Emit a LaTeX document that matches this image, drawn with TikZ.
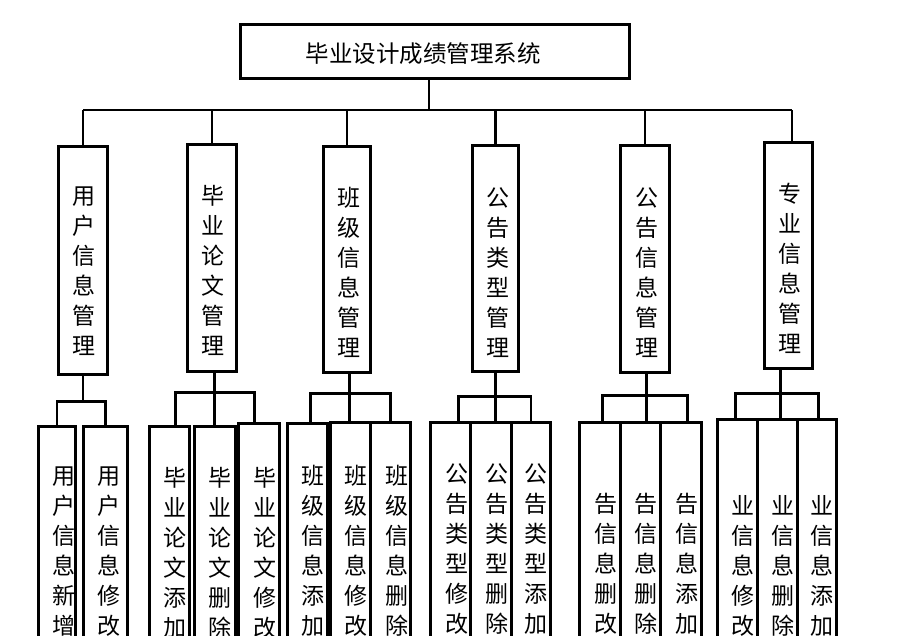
\documentclass[tikz,border=0pt]{standalone}
\usepackage{fontspec}
\setmainfont{Noto Sans CJK SC}
\usetikzlibrary{positioning}
\tikzset{
x=1pt, y=-1pt, % one unit is one pixel, y grows downwards
wire/.style={line width=2.7pt}, % the connecting lines
box/.style={draw, line width=2.7pt, anchor=north west, inner sep=0pt}, % every frame
vtext/.style={anchor=north, align=center, inner sep=0pt, font=\fontsize{23}{30}\selectfont}, % text written top to bottom
}

\begin{document}
\begin{tikzpicture}
    \useasboundingbox (0,0) rectangle (902,635);
    \clip (0,0) rectangle (902,635);
    % top
    \node[box, minimum width=389, minimum height=54] (sys) at (239,23) {};
    \node[anchor=center, inner sep=0pt, font=\fontsize{23.5}{28}\selectfont] (syst) at (423,54) {毕业设计成绩管理系统};
    % second level
    \node[box, minimum width=49, minimum height=228] (m1) at (57,145) {};
    \node[box, minimum width=49, minimum height=227] (m2) at (186,143) {};
    \node[box, minimum width=47, minimum height=226] (m3) at (322,145) {};
    \node[box, minimum width=46, minimum height=226] (m4) at (471,144) {};
    \node[box, minimum width=49, minimum height=227] (m5) at (619,144) {};
    \node[box, minimum width=48, minimum height=226] (m6) at (763,141) {};
    \node[vtext] (m1t) at (83.5,187) {用\\户\\信\\息\\管\\理};
    \node[vtext] (m2t) at (212.5,185) {毕\\业\\论\\文\\管\\理};
    \node[vtext] (m3t) at (348.5,187) {班\\级\\信\\息\\管\\理};
    \node[vtext] (m4t) at (498,187) {公\\告\\类\\型\\管\\理};
    \node[vtext] (m5t) at (646.5,187) {公\\告\\信\\息\\管\\理};
    \node[vtext] (m6t) at (790,183) {专\\业\\信\\息\\管\\理};
    % third level
    \node[box, minimum width=37, minimum height=240] (a1) at (37,425) {};
    \node[box, minimum width=44, minimum height=240] (a2) at (82,425) {};
    \node[box, minimum width=40, minimum height=240] (b1) at (148,425) {};
    \node[box, minimum width=41, minimum height=240] (b2) at (193,425) {};
    \node[box, minimum width=41, minimum height=240] (b3) at (237,422) {};
    \node[box, minimum width=40, minimum height=240] (c1) at (286,422) {};
    \node[box, minimum width=40, minimum height=240] (c2) at (329,421) {};
    \node[box, minimum width=40, minimum height=240] (c3) at (369,421) {};
    \node[box, minimum width=40, minimum height=240] (d1) at (429,421) {};
    \node[box, minimum width=41, minimum height=240] (d2) at (469,421) {};
    \node[box, minimum width=39, minimum height=240] (d3) at (510,421) {};
    \node[box, minimum width=41, minimum height=240] (e1) at (578,421) {};
    \node[box, minimum width=40, minimum height=240] (e2) at (619,421) {};
    \node[box, minimum width=41, minimum height=240] (e3) at (659,421) {};
    \node[box, minimum width=40, minimum height=240] (f1) at (716,418) {};
    \node[box, minimum width=40, minimum height=240] (f2) at (756,418) {};
    \node[box, minimum width=39, minimum height=240] (f3) at (796,418) {};
    \node[vtext] (a1t) at (63.5,467) {用\\户\\信\\息\\新\\增};
    \node[vtext] (a2t) at (108.5,467) {用\\户\\信\\息\\修\\改};
    \node[vtext] (b1t) at (175,467) {毕\\业\\论\\文\\添\\加};
    \node[vtext] (b2t) at (220,467) {毕\\业\\论\\文\\删\\除};
    \node[vtext] (b3t) at (265,467) {毕\\业\\论\\文\\修\\改};
    \node[vtext] (c1t) at (313,465) {班\\级\\信\\息\\添\\加};
    \node[vtext] (c2t) at (356,465) {班\\级\\信\\息\\修\\改};
    \node[vtext] (c3t) at (396.5,465) {班\\级\\信\\息\\删\\除};
    \node[vtext] (d1t) at (456.5,463) {公\\告\\类\\型\\修\\改};
    \node[vtext] (d2t) at (496.5,463) {公\\告\\类\\型\\删\\除};
    \node[vtext] (d3t) at (535.5,463) {公\\告\\类\\型\\添\\加};
    \node[vtext] (e1t) at (606,493) {告\\信\\息\\删\\改};
    \node[vtext] (e2t) at (645.5,493) {告\\信\\息\\删\\除};
    \node[vtext] (e3t) at (686.5,493) {告\\信\\息\\添\\加};
    \node[vtext] (f1t) at (743,495) {业\\信\\息\\修\\改};
    \node[vtext] (f2t) at (782.5,495) {业\\信\\息\\删\\除};
    \node[vtext] (f3t) at (822,495) {业\\信\\息\\添\\加};
    % lines from the top box
    \coordinate (busL) at (83,110);
    \coordinate (busR) at (792,110);
    \draw[wire] ([xshift=-6]sys.south) -- ([xshift=-6]sys.south |- busL);
    \draw[wire] (busL) -- (busR);
    \draw[wire] (m1.north) -- (m1.north |- busL);
    \draw[wire] (m2.north) -- (m2.north |- busL);
    \draw[wire] (m3.north) -- (m3.north |- busL);
    \draw[wire] (m4.north) -- (m4.north |- busL);
    \draw[wire] (m5.north) -- (m5.north |- busL);
    \draw[wire] (busR) -- (busR |- m6.north);
    % lines to the third level
    \draw[wire] (m1.south) -- ++(0,26) coordinate (j1);
    \draw[wire] (a1.north) |- (j1) -| (a2.north);
    \draw[wire] ([xshift=2.5]m2.south) -- ++(0,20) coordinate (j2);
    \draw[wire] ([xshift=6]b1.north) |- (j2) -| ([xshift=-4.5]b3.north);
    \draw[wire] (j2) -- (j2 |- b2.north);
    \draw[wire] ([xshift=2.5]m3.south) -- ++(0,20) coordinate (j3);
    \draw[wire] ([xshift=3]c1.north) |- (j3) -| (c3.north);
    \draw[wire] (j3) -- (j3 |- c2.north);
    \draw[wire] (m4.south) -- ++(0,24) coordinate (j4);
    \draw[wire] ([xshift=8]d1.north) |- (j4) -| (d3.north);
    \draw[wire] (j4) -- (j4 |- d2.north);
    \draw[wire] ([xshift=1.5]m5.south) -- ++(0,22) coordinate (j5);
    \draw[wire] ([xshift=2.5]e1.north) |- (j5) -| ([xshift=6.5]e3.north);
    \draw[wire] (j5) -- (j5 |- e2.north);
    \draw[wire] ([xshift=-8]m6.south) -- ++(0,24) coordinate (j6);
    \draw[wire] ([xshift=-2]f1.north) |- (j6) -| ([xshift=1.5]f3.north);
    \draw[wire] (j6) -- (j6 |- f2.north);
\end{tikzpicture}
\end{document}
